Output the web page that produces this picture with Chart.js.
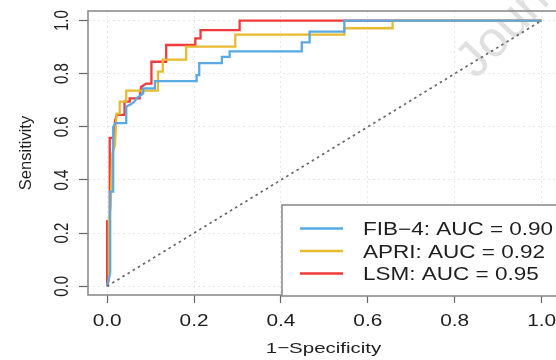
<!DOCTYPE html>
<html><head><meta charset="utf-8">
<script src="https://cdn.jsdelivr.net/npm/chart.js@4.4.1/dist/chart.umd.min.js"></script>
<style>
html,body{margin:0;padding:0;background:#fff;overflow:hidden;}
#wrap{width:562px;height:360px;position:relative;}
</style></head><body>
<div id="wrap"><canvas id="c"></canvas></div>
<script>
// ---- data ----
const xTickValues = [0, 0.2, 0.4, 0.6, 0.8, 1.0];
const xTickLabels = ['0.0', '0.2', '0.4', '0.6', '0.8', '1.0'];
const yTickValues = [0, 0.2, 0.4, 0.6, 0.8, 1.0];
const yTickLabels = ['0.0', '0.2', '0.4', '0.6', '0.8', '1.0'];
const xTitle = '1\u2212Specificity';
const yTitle = 'Sensitivity';
const seriesLabels = ['FIB\u22124: AUC = 0.90', 'APRI: AUC = 0.92', 'LSM: AUC = 0.95'];
const seriesColors = ['#58a9e4', '#e7ba30', '#ef3b3b'];
const watermark = 'Journal Pre-proof';

const fib4Fpr = [0, 0.007, 0.007, 0.014, 0.014, 0.02, 0.044, 0.044, 0.06, 0.07, 0.083, 0.083, 0.11, 0.11, 0.206, 0.206, 0.212, 0.212, 0.264, 0.264, 0.282, 0.282, 0.448, 0.448, 0.466, 0.466, 0.546, 0.546, 1];
const fib4Tpr = [0, 0.05, 0.356, 0.356, 0.60, 0.614, 0.614, 0.676, 0.69, 0.71, 0.726, 0.745, 0.745, 0.772, 0.772, 0.795, 0.795, 0.840, 0.840, 0.863, 0.863, 0.884, 0.884, 0.918, 0.918, 0.958, 0.958, 1, 1];

const apriFpr = [0, 0.004, 0.004, 0.008, 0.012, 0.018, 0.02, 0.022, 0.029, 0.029, 0.044, 0.044, 0.117, 0.117, 0.128, 0.128, 0.182, 0.182, 0.295, 0.295, 0.546, 0.546, 0.657, 0.657, 1];
const apriTpr = [0, 0.02, 0.25, 0.30, 0.50, 0.53, 0.60, 0.65, 0.65, 0.695, 0.695, 0.736, 0.736, 0.808, 0.808, 0.853, 0.853, 0.902, 0.902, 0.947, 0.947, 0.971, 0.971, 1, 1];

const lsmFpr = [0, 0, 0.006, 0.006, 0.018, 0.018, 0.022, 0.040, 0.040, 0.052, 0.052, 0.075, 0.078, 0.090, 0.102, 0.102, 0.136, 0.136, 0.203, 0.203, 0.215, 0.215, 0.305, 0.305, 1];
const lsmTpr = [0, 0.244, 0.244, 0.558, 0.558, 0.62, 0.645, 0.645, 0.695, 0.695, 0.707, 0.707, 0.75, 0.763, 0.763, 0.845, 0.845, 0.908, 0.908, 0.933, 0.933, 0.964, 0.964, 1, 1];

const diagX = [0, 1];
const diagY = [0, 1];

// ---- helpers ----
const FONT = "'Liberation Sans', Arial, Helvetica, sans-serif";
const TXT = '#1e1e1e';
function pts(xs, ys) { return xs.map((x, i) => ({ x: x, y: ys[i] })); }
function txt(ctx, s, x, y, size, sx, rot, align, base, color) {
  ctx.save();
  ctx.translate(x, y);
  ctx.scale(sx, 1);
  if (rot) ctx.rotate(rot);
  ctx.font = size + 'px ' + FONT;
  ctx.textAlign = align;
  ctx.textBaseline = base;
  ctx.fillStyle = color;
  ctx.fillText(s, 0, 0);
  ctx.restore();
}

const watermarkPlugin = {
  id: 'wm',
  beforeDraw(chart) {
    const ctx = chart.ctx;
    ctx.save();
    ctx.translate(476, 80);
    ctx.rotate(-46 * Math.PI / 180);
    ctx.font = '50px ' + FONT;
    ctx.fillStyle = '#e0e0e0';
    ctx.textBaseline = 'alphabetic';
    ctx.fillText(watermark, 0, 0);
    ctx.restore();
  }
};

const framePlugin = {
  id: 'frame',
  afterDraw(chart) {
    const ctx = chart.ctx;
    const a = chart.chartArea;
    const xs = chart.scales.x, ys = chart.scales.y;
    ctx.save();
    ctx.strokeStyle = '#8c8c8c';
    ctx.lineWidth = 1.6;
    ctx.strokeRect(a.left, a.top, a.right - a.left, a.bottom - a.top);
    ctx.restore();

    // tick labels
    xTickValues.forEach((v, i) => {
      txt(ctx, xTickLabels[i], xs.getPixelForValue(v), 325.5, 16, 1.3, 0, 'center', 'alphabetic', TXT);
    });
    yTickValues.forEach((v, i) => {
      txt(ctx, yTickLabels[i], 68, ys.getPixelForValue(v), 15, 1.35, -Math.PI / 2, 'center', 'alphabetic', TXT);
    });
    // axis titles
    txt(ctx, xTitle, (a.left + a.right) / 2, 353, 15.5, 1.32, 0, 'center', 'alphabetic', TXT);
    txt(ctx, yTitle, 30.5, (a.top + a.bottom) / 2, 16.5, 1.05, -Math.PI / 2, 'center', 'alphabetic', TXT);

    // legend
    ctx.save();
    ctx.fillStyle = '#fff';
    ctx.strokeStyle = '#8c8c8c';
    ctx.lineWidth = 1.6;
    ctx.fillRect(282, 205, 320, 91);
    ctx.strokeRect(282, 205, 320, 91);
    const rows = [228.5, 251, 273.5];
    seriesLabels.forEach((lab, i) => {
      ctx.strokeStyle = seriesColors[i];
      ctx.lineWidth = 2.4;
      ctx.beginPath();
      ctx.moveTo(300, rows[i]);
      ctx.lineTo(343, rows[i]);
      ctx.stroke();
      txt(ctx, lab, 363, rows[i] + 6.5, 18, 1.25, 0, 'left', 'alphabetic', TXT);
    });
    ctx.restore();
  }
};

const lineDs = (label, data, color) => ({
  label: label, data: data, showLine: true, borderColor: color, backgroundColor: color,
  borderWidth: 2.3, pointRadius: 0, tension: 0, fill: false
});

const axisCommon = (ticks, tl) => ({
  type: 'linear',
  afterBuildTicks: s => { s.ticks = ticks.map(v => ({ value: v })); },
  ticks: { display: false },
  grid: { color: '#e6e6e6', lineWidth: 1, drawTicks: true, tickLength: tl, tickColor: '#666', tickWidth: 1.2 },
  border: { display: false, dash: [2, 3] }
});

const xAxis = Object.assign(axisCommon(xTickValues, 8), { min: -0.044, max: 1.04, afterFit: s => { s.height = 65; } });
const yAxis = Object.assign(axisCommon(yTickValues, 9), { min: -0.033, max: 1.036, afterFit: s => { s.width = 88; } });

new Chart(document.getElementById('c'), {
  type: 'scatter',
  data: {
    datasets: [
      Object.assign(lineDs('diag', pts(diagX, diagY), '#666'), { borderDash: [2.5, 3.5], borderWidth: 1.7 }),
      lineDs(seriesLabels[0], pts(fib4Fpr, fib4Tpr), seriesColors[0]),
      lineDs(seriesLabels[1], pts(apriFpr, apriTpr), seriesColors[1]),
      lineDs(seriesLabels[2], pts(lsmFpr, lsmTpr), seriesColors[2])
    ]
  },
  options: {
    responsive: true,
    maintainAspectRatio: false,
    animation: false,
    layout: { padding: { top: 11, right: 3, left: 0, bottom: 0 } },
    plugins: { legend: { display: false }, tooltip: { enabled: false } },
    scales: { x: xAxis, y: yAxis }
  },
  plugins: [watermarkPlugin, framePlugin]
});
</script>
</body></html>
